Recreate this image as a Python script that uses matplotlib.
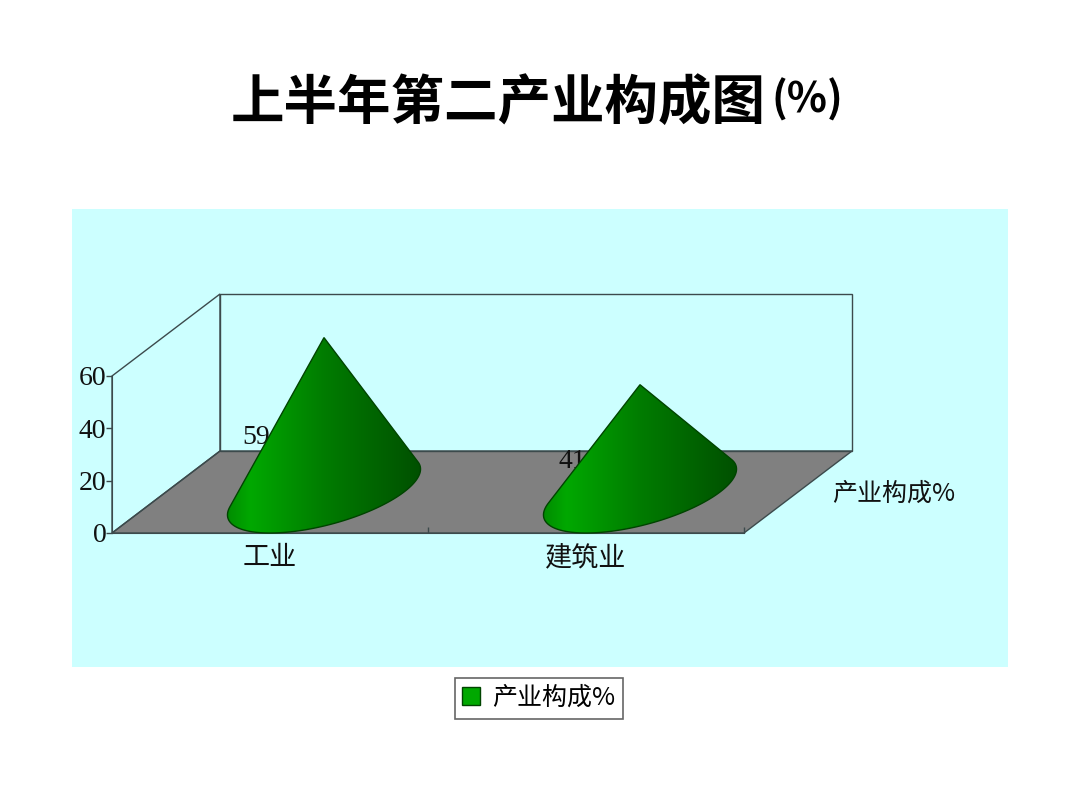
import numpy as np
import matplotlib
matplotlib.use("Agg")
import matplotlib.pyplot as plt
from matplotlib.colors import LinearSegmentedColormap
from matplotlib.patches import Patch, Polygon, Rectangle

CJK = ["Noto Sans CJK SC", "DejaVu Sans"]
NUM = ["Liberation Serif", "DejaVu Serif"]

categories = ["工业", "建筑业"]
values = [59, 41]
y_ticks = [0, 20, 40, 60]
series_name = "产业构成%"
title_main = "上半年第二产业构成图"
title_unit = "(%)"

W, H = 1080, 810
# how far the back wall sits from the front plane, in data units
DEPTH_X = 108 / 316
DEPTH_Y = 82 / (157 / 60)
CONE_A = 80 / 316  # half width of base along x

LINE = "#3c4a4c"

cone_cmap = LinearSegmentedColormap.from_list(
    "cone", [(0, "#008c00"), (0.12, "#00a800"), (0.5, "#007c00"), (1, "#005000")])


def draw_cone(ax, center, value):
    cx = center + DEPTH_X / 2
    cy = DEPTH_Y / 2
    apex = np.array([cx, cy + value])
    t = np.linspace(0, 2 * np.pi, 361)[:-1]
    ex = cx + CONE_A * np.cos(t) + DEPTH_X / 2 * np.sin(t)
    ey = cy + DEPTH_Y / 2 * np.sin(t)

    # silhouette: tangent points are the extreme view angles from the apex,
    # measured in pixels since x and y data units differ
    sx = (ex - apex[0]) * 316
    sy = (apex[1] - ey) * 157 / 60
    ang = np.arctan2(sx, sy)
    i0, i1 = np.argmin(ang), np.argmax(ang)
    idx = i0
    arc = [idx]
    while idx != i1:
        idx = (idx + 1) % len(t)
        arc.append(idx)
    # take the arc passing through the lowest point of the base
    if np.argmin(ey) not in arc:
        idx = i0
        arc = [idx]
        while idx != i1:
            idx = (idx - 1) % len(t)
            arc.append(idx)
    pts = np.vstack([apex, np.column_stack([ex[arc], ey[arc]])])

    outline = Polygon(pts, closed=True, facecolor="none", edgecolor="#004400",
                      linewidth=1.0, zorder=5, clip_on=False)
    ax.add_patch(outline)
    grad = np.linspace(0, 1, 256).reshape(1, -1)
    im = ax.imshow(grad, cmap=cone_cmap, aspect="auto", zorder=4,
                   extent=[pts[:, 0].min(), pts[:, 0].max(), 0, apex[1]],
                   interpolation="bilinear")
    im.set_clip_path(outline)
    im.set_clip_box(ax.figure.bbox)  # apex goes above the y limit


fig = plt.figure(figsize=(W / 100, H / 100), dpi=100, facecolor="white")
fig.patches.append(Rectangle((72 / W, 1 - 667 / H), 936 / W, 458 / H,
                             transform=fig.transFigure, facecolor="#ccffff",
                             edgecolor="none", zorder=-1))

ax = fig.add_axes([112 / W, 1 - 533 / H, 632 / W, 157 / H])
ax.patch.set_alpha(0)
ax.set_xlim(0, len(categories))
ax.set_ylim(0, y_ticks[-1])

# floor and walls
n = len(categories)
top = y_ticks[-1]
ax.add_patch(Polygon([(0, 0), (n, 0), (n + DEPTH_X, DEPTH_Y), (DEPTH_X, DEPTH_Y)],
                     facecolor="#808080", edgecolor=LINE, linewidth=1.0,
                     zorder=1, clip_on=False))
ax.add_patch(Polygon([(0, 0), (0, top), (DEPTH_X, top + DEPTH_Y), (DEPTH_X, DEPTH_Y)],
                     facecolor="none", edgecolor=LINE, linewidth=1.0,
                     zorder=1, clip_on=False))
ax.add_patch(Polygon([(DEPTH_X, DEPTH_Y), (DEPTH_X, top + DEPTH_Y),
                      (n + DEPTH_X, top + DEPTH_Y), (n + DEPTH_X, DEPTH_Y)],
                     facecolor="none", edgecolor=LINE, linewidth=1.0,
                     zorder=1, clip_on=False))

centers = [i + 0.5 for i in range(n)]
for c, v in zip(centers, values):
    ax.text(c - 0.044, v / 2 + 7, str(v), family=NUM, fontsize=20,
            ha="center", va="center", color="#111111", zorder=3)
    draw_cone(ax, c, v)

ax.set_xlim(0, n)
ax.set_ylim(0, top)

for s in ["top", "right"]:
    ax.spines[s].set_visible(False)
for s in ["left", "bottom"]:
    ax.spines[s].set_color(LINE)
    ax.spines[s].set_zorder(2)

ax.set_yticks(y_ticks)
ax.set_yticklabels([str(t) for t in y_ticks], family=NUM, fontsize=20, color="#111111")
ax.tick_params(axis="y", length=4, width=1, color=LINE, pad=0)
ax.set_xticks(centers)
ax.set_xticklabels(categories, family=CJK, fontsize=19.5, color="#111111")
ax.tick_params(axis="x", which="major", length=0, pad=8)
ax.set_xticks([1, 2], minor=True)
ax.tick_params(axis="x", which="minor", direction="in", length=4, width=1, color=LINE)

# series name sits beyond the depth axis
fig.text(894 / W, 1 - 494 / H, series_name, family=CJK, fontsize=18,
         ha="center", va="center", color="#111111")

fig.text(231 / W, 1 - 103 / H, title_main, family=CJK, fontsize=38.5, fontweight="bold",
         ha="left", va="center", color="black")
fig.text(807 / W, 1 - 100 / H, title_unit, family=CJK, fontsize=30, fontweight="bold",
         ha="center", va="center", color="black")

leg = fig.legend(handles=[Patch(facecolor="#00a800", edgecolor="#004400", label=series_name)],
                 loc="center", bbox_to_anchor=(539 / W, 1 - 698 / H),
                 prop={"family": CJK, "size": 18}, fancybox=False, framealpha=1,
                 edgecolor="#666666", handlelength=0.72, handleheight=0.72,
                 handletextpad=0.48, borderpad=0.3, borderaxespad=0, labelspacing=0)
leg.get_frame().set_linewidth(1.2)

fig.savefig("out.png", dpi=100)
plt.close(fig)
